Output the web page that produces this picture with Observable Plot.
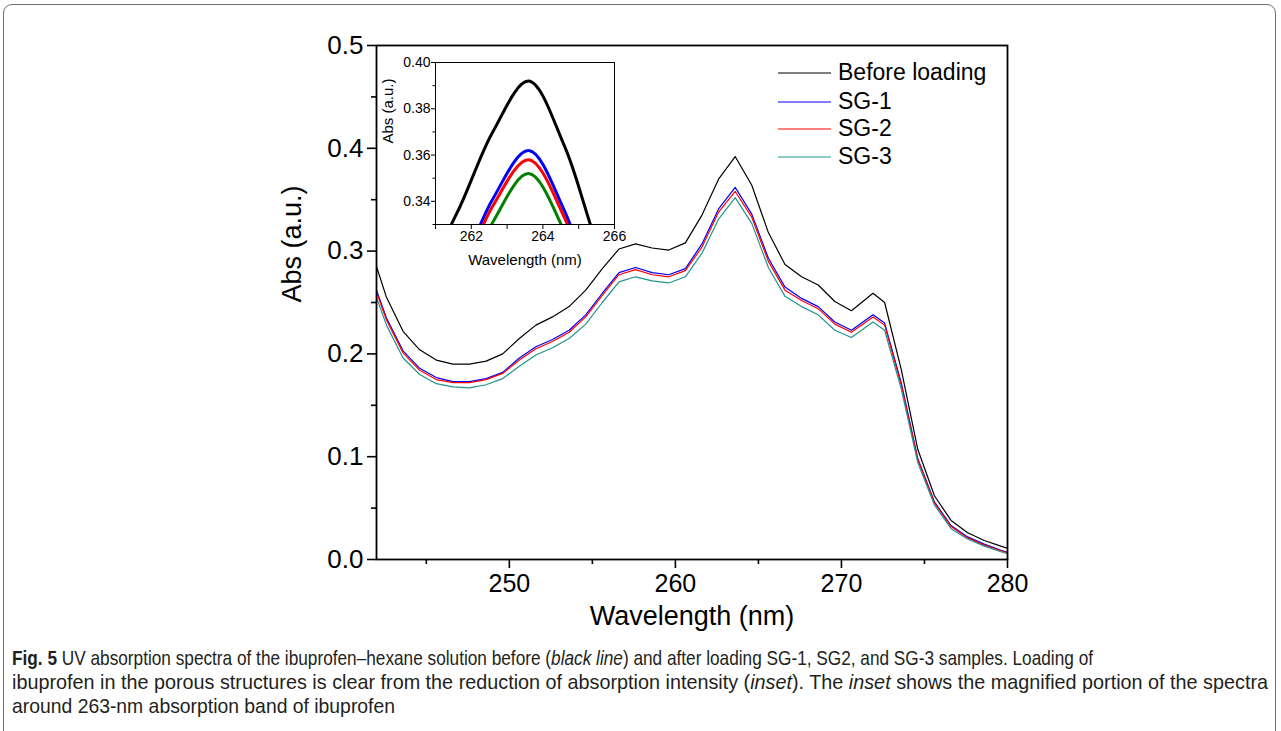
<!DOCTYPE html>
<html>
<head>
<meta charset="utf-8">
<script src="https://cdn.jsdelivr.net/npm/d3@7"></script>
<script src="https://cdn.jsdelivr.net/npm/@observablehq/plot@0.6"></script>
<style>
  html, body { margin: 0; padding: 0; background: #fff; }
  #fig { position: relative; width: 1281px; height: 731px; overflow: hidden; font-family: "Liberation Sans", Arial, sans-serif; }
  #border { position: absolute; left: 3px; top: 4px; width: 1273px; height: 760px; border: 1.2px solid #6d6e71; border-radius: 9px; box-sizing: border-box; }
  .abs { position: absolute; left: 0; top: 0; }
  #legend { position: absolute; left: 776px; top: 58px; font-size: 23px; color: #000; }
  #legend .row { position: absolute; left: 0; height: 28px; white-space: nowrap; }
  #legend svg { position: absolute; left: 0; top: 0; }
  #legend span { position: absolute; left: 62px; top: 0; line-height: 28px; }
  #caption { position: absolute; left: 12px; top: 646px; font-family: "Liberation Sans Narrow", "Liberation Sans", Arial, sans-serif; font-size: 21px; line-height: 24px; color: #231f20; }
  #caption div { white-space: nowrap; transform-origin: 0 50%; }
  #caption b { color: #231f20; }
</style>
</head>
<body>
<div id="fig">
  <div id="border"></div>
  <div id="main" class="abs"></div>
  <div id="inset" class="abs" style="left:355px; top:40px;"></div>
  <div id="legend"></div>
  <div id="caption">
    <div data-w="1081"><b>Fig. 5</b> UV absorption spectra of the ibuprofen–hexane solution before (<i>black line</i>) and after loading SG-1, SG2, and SG-3 samples. Loading of</div>
    <div data-w="1256">ibuprofen in the porous structures is clear from the reduction of absorption intensity (<i>inset</i>). The <i>inset</i> shows the magnified portion of the spectra</div>
    <div data-w="383">around 263-nm absorption band of ibuprofen</div>
  </div>
</div>
<script>
// ---- data ----
const wavelength = [241.6, 242.6, 243.6, 244.6, 245.6, 246.6, 247.6, 248.6, 249.6, 250.6,
  251.6, 252.6, 253.6, 254.6, 255.6, 256.6, 257.6, 258.6, 259.6, 260.6,
  261.6, 262.6, 263.6, 264.6, 265.6, 266.6, 267.6, 268.6, 269.6, 270.6,
  271.9, 272.6, 273.6, 274.6, 275.6, 276.6, 277.6, 278.6, 279.6, 280.6];
const beforeLoading = [0.305, 0.255, 0.222, 0.204, 0.194, 0.190, 0.190, 0.193, 0.200, 0.215,
  0.228, 0.236, 0.246, 0.262, 0.283, 0.302, 0.307, 0.303, 0.301, 0.308,
  0.335, 0.370, 0.392, 0.364, 0.318, 0.287, 0.275, 0.267, 0.251, 0.242,
  0.259, 0.250, 0.185, 0.107, 0.062, 0.038, 0.026, 0.0185, 0.013, 0.008];
const sg1 = [0.280, 0.235, 0.203, 0.186, 0.177, 0.173, 0.173, 0.176, 0.182, 0.196,
  0.207, 0.214, 0.223, 0.238, 0.259, 0.279, 0.284, 0.279, 0.277, 0.283,
  0.307, 0.341, 0.362, 0.336, 0.293, 0.265, 0.254, 0.246, 0.231, 0.223,
  0.238, 0.230, 0.172, 0.098, 0.056, 0.033, 0.022, 0.015, 0.009, 0.004];
const sg2 = [0.278, 0.233, 0.201, 0.184, 0.175, 0.172, 0.172, 0.175, 0.181, 0.194,
  0.205, 0.212, 0.221, 0.236, 0.257, 0.277, 0.282, 0.277, 0.275, 0.281,
  0.304, 0.338, 0.358, 0.333, 0.290, 0.262, 0.252, 0.244, 0.229, 0.221,
  0.236, 0.228, 0.170, 0.097, 0.055, 0.032, 0.021, 0.014, 0.0085, 0.0035];
const sg3 = [0.273, 0.228, 0.196, 0.180, 0.171, 0.168, 0.167, 0.170, 0.176, 0.188,
  0.199, 0.206, 0.215, 0.229, 0.250, 0.270, 0.275, 0.271, 0.269, 0.275,
  0.298, 0.331, 0.352, 0.327, 0.284, 0.256, 0.246, 0.238, 0.223, 0.216,
  0.231, 0.223, 0.166, 0.094, 0.053, 0.030, 0.020, 0.013, 0.0075, 0.003];
const seriesNames = ["Before loading", "SG-1", "SG-2", "SG-3"];
const seriesValues = [beforeLoading, sg1, sg2, sg3];
const mainColors = ["#000000", "#0000ff", "#ff0000", "#22938c"];
const insetColors = ["#000000", "#0000ff", "#ff0000", "#008000"];

const xMajor = [250, 260, 270, 280];
const xMinor = [245, 255, 265, 275];
const yMajor = [0, 0.1, 0.2, 0.3, 0.4, 0.5];
const yMinor = [0.05, 0.15, 0.25, 0.35, 0.45];
const insetXMajor = [262, 264, 266];
const insetXMinor = [261, 263, 265];
const insetYMajor = [0.34, 0.36, 0.38, 0.40];
const insetYMinor = [0.33, 0.35, 0.37, 0.39];

const tables = seriesValues.map((vals, s) => wavelength.map((x, i) => ({x, y: vals[i], series: seriesNames[s]})));

const font = "'Liberation Sans', Arial, sans-serif";
const blank = () => "";

// ---- main chart ----
const main = Plot.plot({
  width: 1281, height: 645,
  marginLeft: 376, marginRight: 274, marginTop: 45, marginBottom: 86,
  x: {domain: [242, 280]},
  y: {domain: [0, 0.5]},
  style: {fontFamily: font, background: "transparent", color: "#000", overflow: "visible"},
  marks: [
    ...tables.map((t, s) => Plot.line(t, {x: "x", y: "y", stroke: mainColors[s], strokeWidth: 1.2, clip: true})),
    Plot.frame({stroke: "#000", strokeWidth: 1.8}),
    Plot.axisX({ticks: xMajor, tickSize: 9, tickPadding: 6, tickFormat: d => d, fontSize: 25, label: null, strokeWidth: 1.6}),
    Plot.axisX({ticks: xMinor, tickSize: 5, tickFormat: blank, label: null, strokeWidth: 1.6}),
    Plot.axisY({ticks: yMajor, tickSize: 9, tickPadding: 4, tickFormat: d3.format(".1f"), fontSize: 26, label: null, strokeWidth: 1.6}),
    Plot.axisY({ticks: yMinor, tickSize: 5, tickFormat: blank, label: null, strokeWidth: 1.6}),
    Plot.text(["Wavelength (nm)"], {frameAnchor: "bottom", dy: 57, fontSize: 27, lineAnchor: "middle", fill: "#000"}),
    Plot.text(["Abs (a.u.)"], {frameAnchor: "left", dx: -84, rotate: -90, fontSize: 27, lineAnchor: "middle", fill: "#000"})
  ]
});
document.getElementById("main").append(main);

// ---- inset ----
const inset = Plot.plot({
  width: 270, height: 240,
  marginLeft: 80, marginRight: 11, marginTop: 22, marginBottom: 56,
  x: {domain: [261, 266]},
  y: {domain: [0.33, 0.40]},
  style: {fontFamily: font, background: "transparent", color: "#000", overflow: "visible"},
  marks: [
    ...tables.map((t, s) => Plot.line(t, {x: "x", y: "y", stroke: insetColors[s], strokeWidth: 3, curve: "catmull-rom", clip: true})),
    Plot.frame({stroke: "#000", strokeWidth: 1}),
    Plot.axisX({ticks: insetXMajor, tickSize: 5, tickPadding: 2, tickFormat: d => d, fontSize: 14, label: null}),
    Plot.axisX({ticks: insetXMinor, tickSize: 5, tickFormat: blank, label: null}),
    Plot.axisY({ticks: insetYMajor, tickSize: 4, tickPadding: 1, tickFormat: d3.format(".2f"), fontSize: 14, label: null}),
    Plot.axisY({ticks: insetYMinor, tickSize: 2.5, tickFormat: blank, label: null}),
    Plot.text(["Wavelength (nm)"], {frameAnchor: "bottom", dy: 36, fontSize: 15, lineAnchor: "middle", fill: "#000"}),
    Plot.text(["Abs (a.u.)"], {frameAnchor: "left", dx: -47, rotate: -90, fontSize: 15, lineAnchor: "middle", fill: "#000"})
  ]
});
document.getElementById("inset").append(inset);

// ---- legend ----
const legend = document.getElementById("legend");
const rowTops = [0, 29, 56, 84];
seriesNames.forEach((name, i) => {
  const row = document.createElement("div");
  row.className = "row";
  row.style.top = rowTops[i] + "px";
  row.innerHTML = `<svg width="60" height="28"><line x1="2" x2="55" y1="15" y2="15" stroke="${mainColors[i]}" stroke-width="1.2"/></svg><span>${name}</span>`;
  legend.append(row);
});

// ---- caption line fitting ----
document.querySelectorAll("#caption div").forEach(el => {
  const target = +el.dataset.w;
  const range = document.createRange();
  range.selectNodeContents(el);
  const tw = range.getBoundingClientRect().width;
  if (tw > 0) el.style.transform = `scaleX(${target / tw})`;
});
</script>
</body>
</html>
